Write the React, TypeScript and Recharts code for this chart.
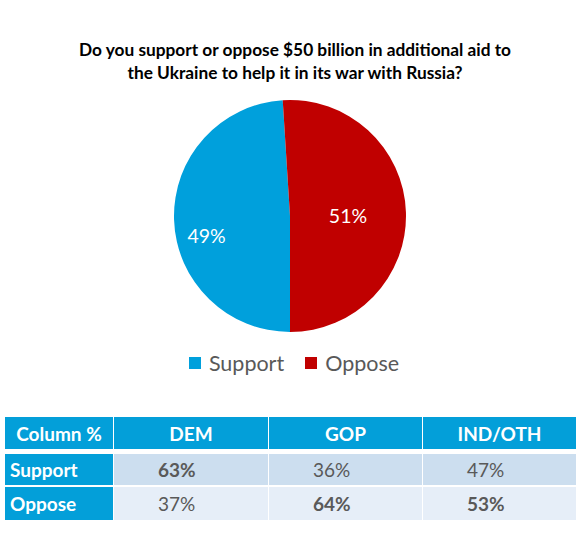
import React from "react";
import { PieChart, Pie, Cell, Legend } from "recharts";

const titleLines = [
  "Do you support or oppose $50 billion in additional aid to",
  "the Ukraine to help it in its war with Russia?",
];

const sliceNames = ["Support", "Oppose"];
const sliceValues = [49, 51];
const sliceColors = ["#00A0DC", "#C00000"];

const tableHeader = ["Column %", "DEM", "GOP", "IND/OTH"];
const rowNames = ["Support", "Oppose"];
const supportRow = [63, 36, 47];
const opposeRow = [37, 64, 53];
const boldCells = [
  [true, false, false],
  [false, true, true],
];

const FONT = "Lato, 'Open Sans', sans-serif";
const HEADER_BLUE = "#039FD9";
const TEXT_GREY = "#595959";

const pieData = sliceNames.map((name, i) => ({ name, value: sliceValues[i] }));

// per-slice label placement (fraction of radius, extra vertical nudge)
const labelPlacement = [
  { r: 0.72, dy: 17 },
  { r: 0.5, dy: 1 },
];

const RADIAN = Math.PI / 180;

const renderLabel = (props: any) => {
  const { cx, cy, midAngle, outerRadius, index, value } = props;
  const p = labelPlacement[index] ?? { r: 0.6, dy: 0 };
  const r = outerRadius * p.r;
  const x = cx + r * Math.cos(-midAngle * RADIAN);
  const y = cy + r * Math.sin(-midAngle * RADIAN) + p.dy;
  return (
    <text
      x={x}
      y={y}
      fill="#ffffff"
      fontSize={19.5}
      fontFamily={FONT}
      textAnchor="middle"
      dominantBaseline="central"
    >
      {`${value}%`}
    </text>
  );
};

const renderLegend = () => (
  <div
    style={{
      display: "flex",
      justifyContent: "center",
      alignItems: "center",
      fontFamily: FONT,
      fontSize: 21.5,
      color: TEXT_GREY,
      gap: 21,
      paddingLeft: 4,
    }}
  >
    {sliceNames.map((name, i) => (
      <div key={name} style={{ display: "flex", alignItems: "center" }}>
        <span
          style={{
            display: "inline-block",
            width: 12,
            height: 12,
            background: sliceColors[i],
            marginRight: 8,
          }}
        />
        <span>{name}</span>
      </div>
    ))}
  </div>
);

const colWidths = [108, 154, 153, 153];
const rowHeights = [32, 31, 33];
const rowGaps = [5, 2];
const rowBgs = ["#CCDEEF", "#E6EEF8"];

function ResultsTable() {
  const rows = [supportRow, opposeRow];
  return (
    <div style={{ position: "absolute", left: 5, top: 417, fontFamily: FONT }}>
      <div style={{ display: "flex", gap: 1, height: rowHeights[0] }}>
        {tableHeader.map((h, i) => (
          <div
            key={h}
            style={{
              width: colWidths[i],
              background: HEADER_BLUE,
              color: "#ffffff",
              fontWeight: 700,
              fontSize: 19,
              display: "flex",
              alignItems: "center",
              justifyContent: "center",
            }}
          >
            {h}
          </div>
        ))}
      </div>
      {rows.map((vals, r) => (
        <div
          key={rowNames[r]}
          style={{
            display: "flex",
            gap: 1,
            height: rowHeights[r + 1],
            marginTop: rowGaps[r],
          }}
        >
          <div
            style={{
              width: colWidths[0],
              background: HEADER_BLUE,
              color: "#ffffff",
              fontWeight: 700,
              fontSize: 19,
              display: "flex",
              alignItems: "center",
              paddingLeft: 5,
              boxSizing: "border-box",
            }}
          >
            {rowNames[r]}
          </div>
          {vals.map((v, c) => (
            <div
              key={c}
              style={{
                width: colWidths[c + 1],
                background: rowBgs[r],
                color: TEXT_GREY,
                fontWeight: boldCells[r][c] ? 700 : 400,
                fontSize: 19,
                display: "flex",
                alignItems: "center",
                paddingLeft: 44,
                boxSizing: "border-box",
              }}
            >
              {`${v}%`}
            </div>
          ))}
        </div>
      ))}
    </div>
  );
}

export default function App() {
  return (
    <div
      style={{
        position: "absolute",
        left: 0,
        top: 0,
        width: 584,
        height: 539,
        background: "#ffffff",
        overflow: "hidden",
      }}
    >
      <div
        style={{
          position: "absolute",
          top: 38,
          left: 0,
          width: 584,
          paddingLeft: 6,
          boxSizing: "border-box",
          textAlign: "center",
          fontFamily: FONT,
          fontWeight: 700,
          fontSize: 17.3,
          lineHeight: "23px",
          color: "#000000",
        }}
      >
        {titleLines.map((l) => (
          <div key={l}>{l}</div>
        ))}
      </div>
      <div style={{ position: "absolute", left: 0, top: 0 }}>
        <PieChart
          width={584}
          height={400}
          margin={{ top: 0, right: 0, bottom: 0, left: 0 }}
        >
          <Pie
            data={pieData}
            dataKey="value"
            nameKey="name"
            cx={290}
            cy={216}
            outerRadius={116}
            startAngle={-90}
            endAngle={-450}
            stroke="none"
            labelLine={false}
            label={renderLabel}
            isAnimationActive={false}
          >
            {pieData.map((d, i) => (
              <Cell key={d.name} fill={sliceColors[i]} />
            ))}
          </Pie>
          <Legend
            content={renderLegend}
            verticalAlign="bottom"
            wrapperStyle={{ top: 350, bottom: "auto", left: 0, width: 584 }}
          />
        </PieChart>
      </div>
      <ResultsTable />
    </div>
  );
}
